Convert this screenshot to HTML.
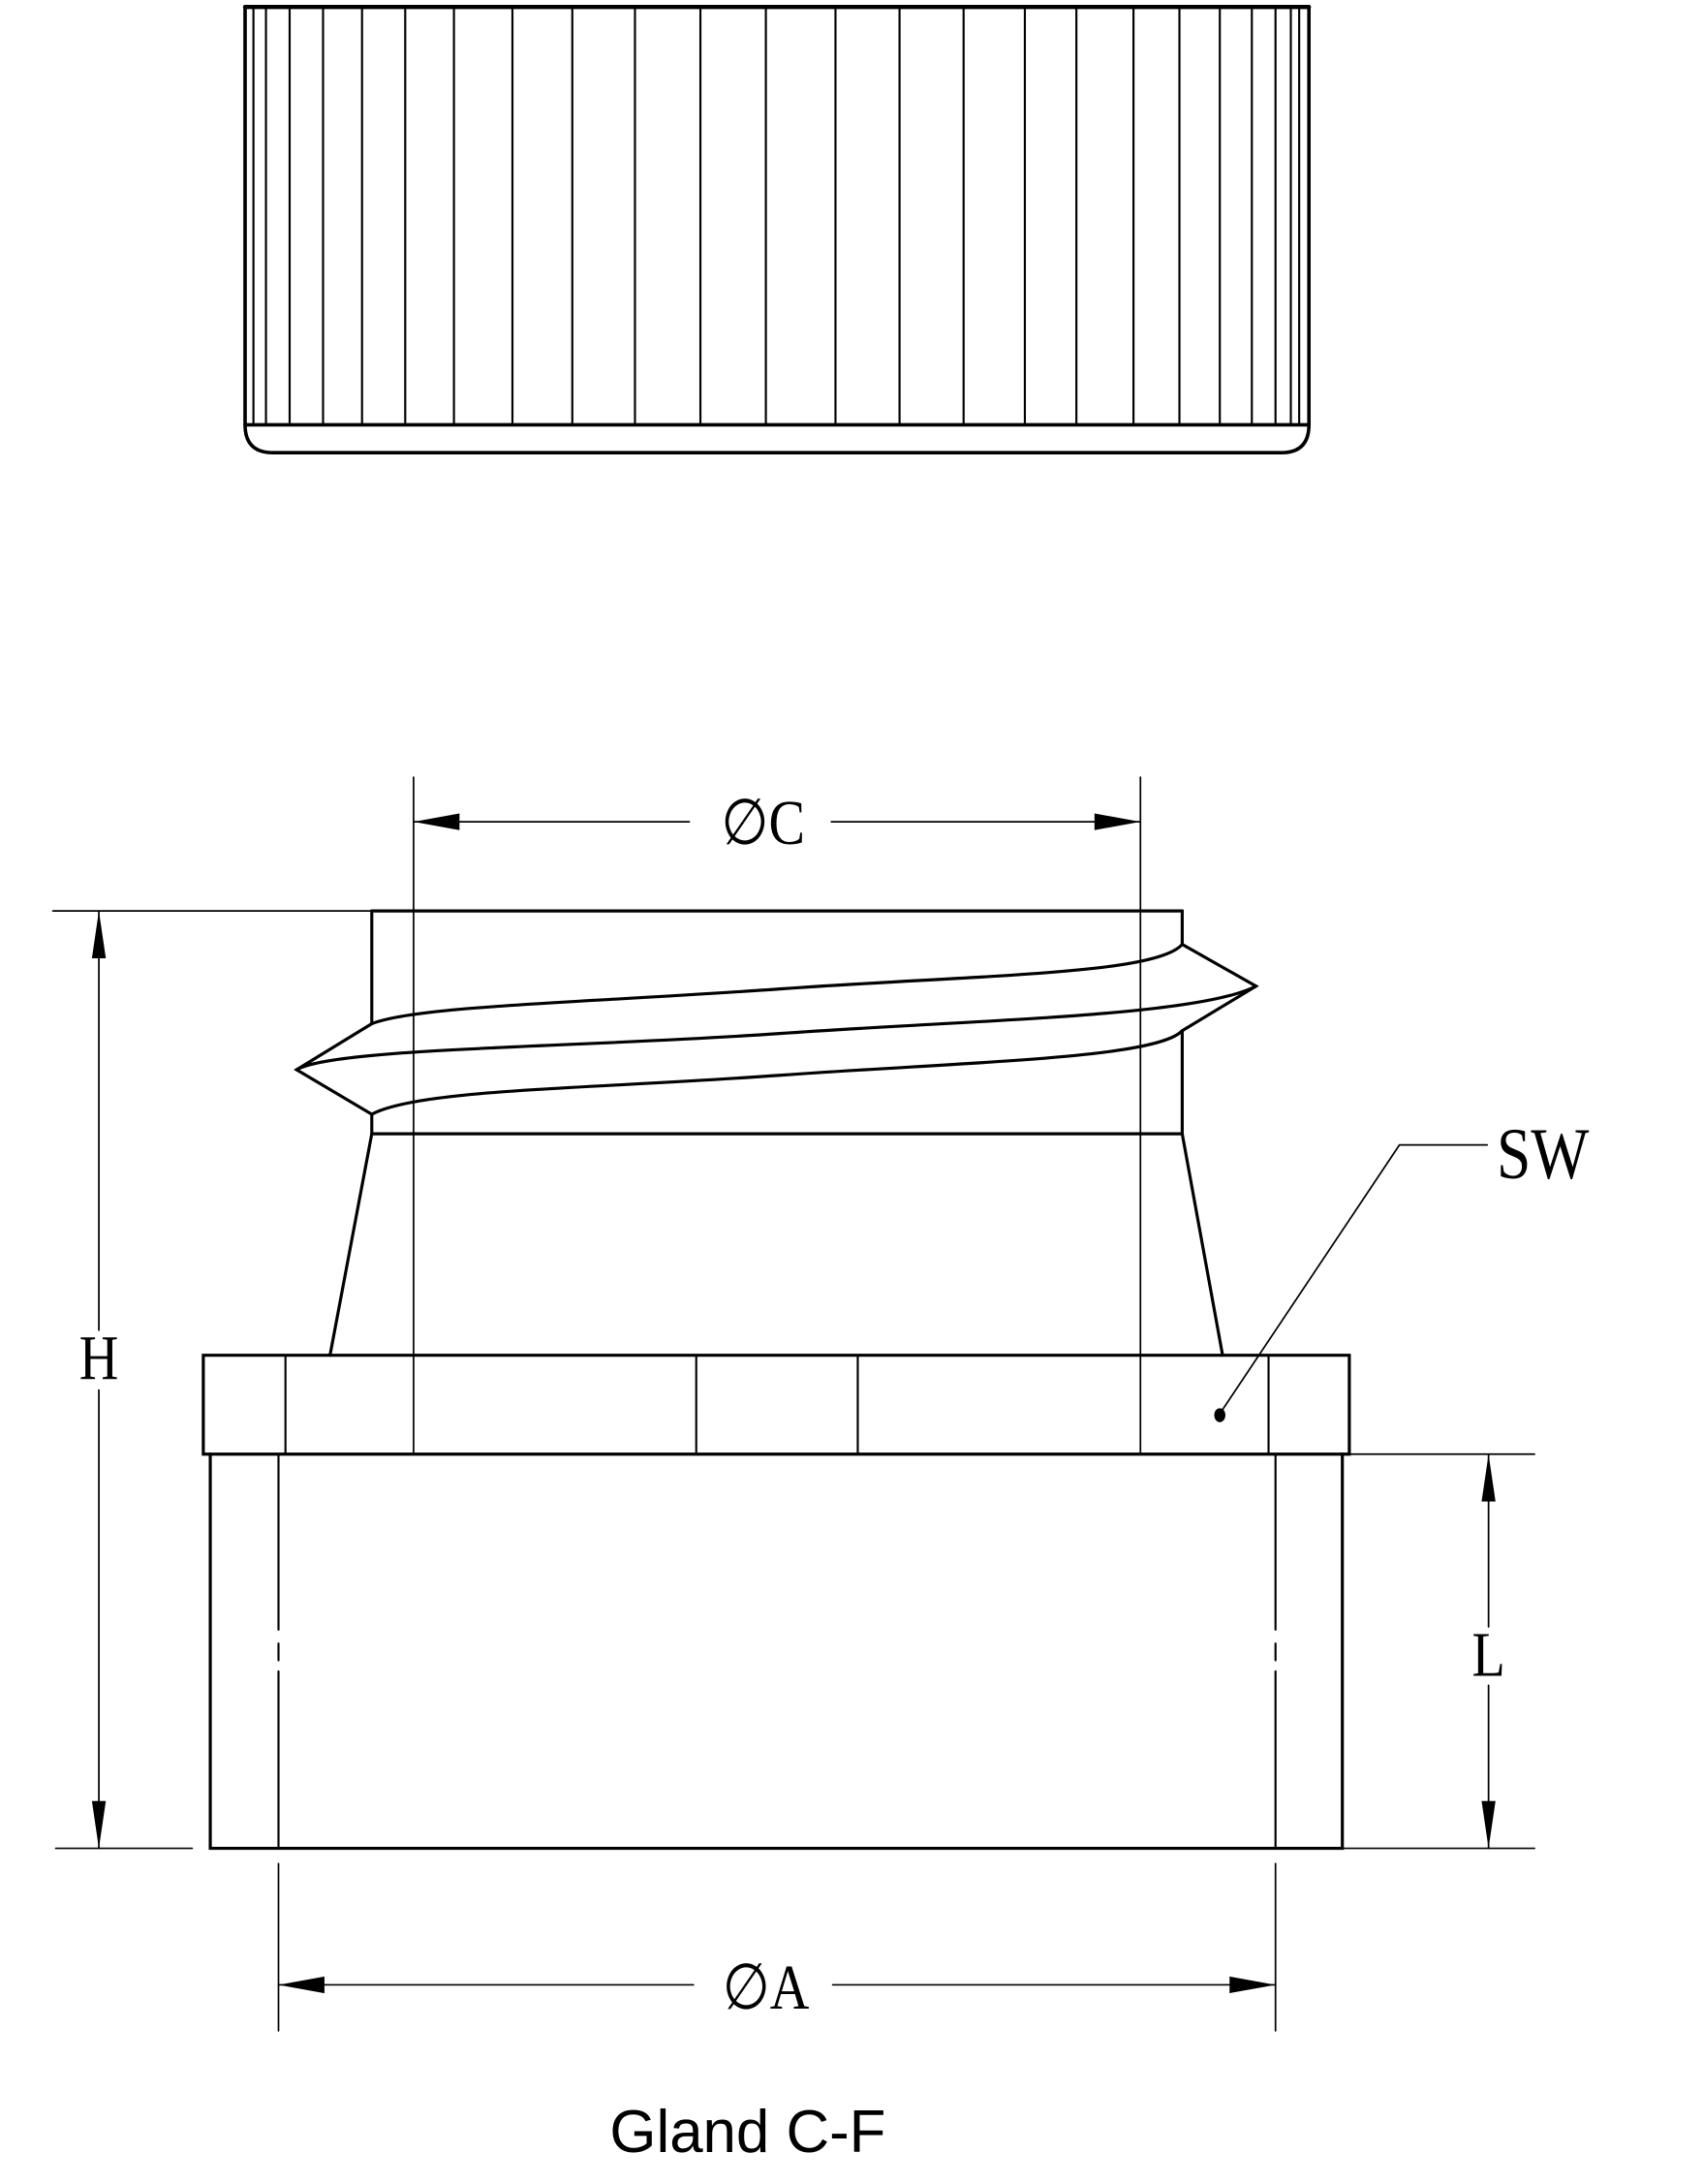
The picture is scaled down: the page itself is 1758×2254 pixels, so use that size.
<!DOCTYPE html>
<html><head><style>html,body{margin:0;padding:0;background:#fff}svg{display:block}</style></head>
<body>
<svg width="1758" height="2254" viewBox="0 0 1223 1568" preserveAspectRatio="none" xmlns="http://www.w3.org/2000/svg">
<g fill="none" stroke="#000" stroke-linecap="round">
<path d="M176 5 L940 5" stroke-width="3"/>
<path d="M176 5 L176 305 Q176 325 196 325 L920 325 Q940 325 940 305 L940 5" stroke-width="2.5"/>
<path d="M176 305 L940 305" stroke-width="2.5"/>
<g stroke-width="1.5">
<path d="M182 5V305M191 5V305M208 5V305M232 5V305M260 5V305M291 5V305M326 5V305M368 5V305M411 5V305M456 5V305M503 5V305M550 5V305M600 5V305M646 5V305M692 5V305M736 5V305M773 5V305M814 5V305M847 5V305M876 5V305M899 5V305M916 5V305M927 5V305M933 5V305"/>
</g>
<g stroke-width="1.2">
<path d="M297 558V1044M819 558V1044"/>
<path d="M297 590H495M597 590H819"/>
<path d="M38 654H268"/>
<path d="M71 654V955M71 998V1327"/>
<path d="M40 1327H138M964 1327H1102M964 1044H1102"/>
<path d="M1069 1044V1168M1069 1210V1327"/>
<path d="M200 1338V1458M916 1338V1458"/>
<path d="M200 1425H498M598 1425H916"/>
<path d="M876 1015L1005 822H1068"/>
</g>
<g stroke-width="2.2">
<path d="M267 654H849"/>
<path d="M267 654V735M267 800V814M849 654V678M849 740V814"/>
<path d="M267 735L213 768L267 800M849 678L902 708L849 740"/>
<path d="M849 678C830 700 700 700 560 710C420 720 300 722 267 735"/>
<path d="M902 708C860 730 700 732 560 742C420 752 240 752 213 768"/>
<path d="M849 740C830 760 700 762 560 772C420 782 300 782 267 800"/>
<path d="M267 814H849"/>
<path d="M267 814L237 973M849 814L878 973"/>
<path d="M146 973H969V1044H146Z"/>
<path d="M151 1044V1327H964V1044"/>
</g>
<g stroke-width="1.5">
<path d="M205 973V1044M500 973V1044M616 973V1044M911 973V1044"/>
<path d="M200 1044V1170M200 1180V1192M200 1200V1327M916 1044V1170M916 1180V1192M916 1200V1327"/>
</g>
</g>
<g fill="#000">
<path d="M297 590L330 584L330 596Z"/><path d="M819 590L786 584L786 596Z"/>
<path d="M71 654L66 688L76 688Z"/><path d="M71 1327L66 1293L76 1293Z"/>
<path d="M1069 1044L1064 1078L1074 1078Z"/><path d="M1069 1327L1064 1293L1074 1293Z"/>
<path d="M200 1425L233 1419L233 1431Z"/><path d="M916 1425L883 1419L883 1431Z"/>
<ellipse cx="876" cy="1016" rx="4" ry="5"/>
</g>
<g font-family="Liberation Serif, serif" font-size="46" fill="#000" text-anchor="middle">
<text x="548" y="606" transform="translate(548 0) scale(0.85 1) translate(-548 0)">∅C</text>
<text x="71" y="990" transform="translate(71 0) scale(0.85 1) translate(-71 0)">H</text>
<text x="1069" y="1203" transform="translate(1069 0) scale(0.85 1) translate(-1069 0)">L</text>
<text x="550" y="1442" transform="translate(550 0) scale(0.85 1) translate(-550 0)">∅A</text>
<text x="1108" y="846" font-size="52" transform="translate(1108 0) scale(0.85 1) translate(-1108 0)">SW</text>
</g>
<text x="537" y="1545" font-family="Liberation Sans, sans-serif" font-size="43" text-anchor="middle">Gland C-F</text>
</svg>
</body></html>
